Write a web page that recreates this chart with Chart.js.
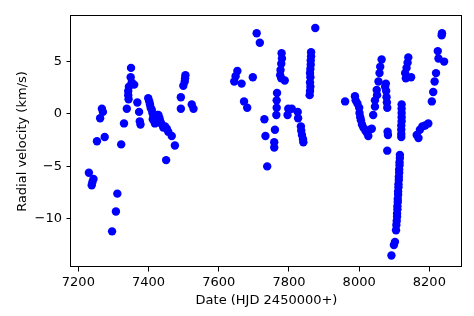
<!DOCTYPE html>
<html>
<head>
<meta charset="utf-8">
<script src="https://cdn.jsdelivr.net/npm/chart.js@4/dist/chart.umd.min.js"></script>
<style>
html, body { margin: 0; padding: 0; background: #fff; }
canvas { display: block; }
</style>
</head>
<body>
<canvas id="rvChart" width="474" height="316"></canvas>
<script>
// first season
let dates1 = [7230,7238,7240,7243,7253,7262,7267,7270,7275,7296,7307,7311,7322,7330,7338,7342,7343,7344,7342,7349,7350,7352,7359,7368,7373,7375,7377,
    7399,7402,7404,7406,7409,7411,7414,7416,7418,7412,7420,7425,7428,7431,7433,7436,7442,7447,7452,7456,7466,7475,7450,
    7492,7492,7499,7503,7504,7505,7523,7528];
let rv1 = [-5.6,-6.8,-6.5,-6.2,-2.6,-0.4,0.5,0.2,-2.2,-11.2,-9.3,-7.6,-2.9,-0.9,0.5,1.8,1.4,2.6,2.2,3.5,4.4,3.0,2.8,1.1,0.2,-0.7,-1.0,
    1.5,1.2,0.9,0.6,0.4,0.1,-0.3,-0.6,-0.9,-0.5,-0.2,-0.1,-0.1,-0.4,-0.7,-0.9,-1.3,-1.2,-1.4,-1.7,-2.1,-3.0,-4.4,
    0.5,1.6,2.7,3.1,3.4,3.7,0.9,0.5];

// second season
let dates2 = [7644,7648,7653,7665,7672,7681,7697,7708,7717,7730,7733,7738,7758,7758,7760,7764,7765,7765,7766,
    7775,7776,7778,7780,7779,7778,7788,7796,7798,7808,7825,7826,7834,7835,7837,7840,7841,
    7859,7860,7861,7860,7861,7860,7861,7862,7862,7863,7863,7875];
let rv2 = [3.1,3.6,4.1,2.9,1.2,0.6,3.5,7.7,6.8,-0.5,-2.1,-5.0,-3.2,-2.7,-1.5,-0.1,0.6,1.3,2.0,
    3.7,4.2,4.8,5.3,5.8,3.4,3.2,-0.1,0.5,0.5,0.2,-0.4,-1.2,-1.6,-2.0,-2.4,-2.7,
    1.8,2.2,2.6,3.0,3.5,3.9,4.3,4.7,5.1,5.5,5.9,8.2];

// third season
let dates3 = [7960,7988,7990,7995,8000,8001,8003,8005,8008,8012,8018,8022,8026,8030,8036,8040,8045,8045,8050,8051,8055,8058,8060,8064,
    8074,8076,8077,8078,8079,8080,8081,8082,8080,
    8116,8116,8115,8115,8114,8114,8113,8113,8112,8112,8111,8111,8110,8110,8109,8109,8108,8108,8107,8106,8105,
    8102,8099,8092,
    8121,8121,8121,8121,8121,8120,8120,8120,8120,
    8131,8133,8135,8138,8140,8148,
    8164,8169,8173,8180,8188,8197,8207,8211,8215,8219,8224,8226,8235,8236,8242];
let rv3 = [1.2,1.7,1.3,1.0,0.6,0.1,-0.3,-0.6,-1.0,-1.3,-1.6,-1.8,-2.1,-1.5,-1.4,-0.1,0.7,1.3,2.3,1.8,3.1,3.9,4.5,5.2,
    2.6,2.9,2.2,1.6,1.1,0.6,-1.7,-2.0,-3.5,
    -3.9,-4.2,-4.6,-4.9,-5.3,-5.6,-6.0,-6.3,-6.7,-7.0,-7.4,-7.7,-8.1,-8.4,-8.8,-9.1,-9.5,-9.8,-10.2,-10.6,-11.1,
    -12.2,-12.5,-13.5,
    0.9,0.5,0.1,-0.3,-0.7,-1.1,-1.5,-1.9,-2.2,
    3.9,3.4,4.4,4.9,5.4,3.5,
    -2.0,-2.3,-1.5,-1.2,-1.1,-0.9,1.2,2.1,3.1,3.9,6.0,5.3,7.5,7.7,5.0];

let xTicks = [7200, 7400, 7600, 7800, 8000, 8200];
let yTicks = [-10, -5, 0, 5];

function toPoints(xs, ys) {
    return xs.map((x, i) => ({x: x, y: ys[i]}));
}

function minusSign(v) {
    return v < 0 ? '\u2212' + Math.abs(v) : '' + v;
}

// box around the plot area, like the axes spines
const frame = {
    id: 'frame',
    afterDatasetsDraw(chart) {
        const a = chart.chartArea;
        const c = chart.ctx;
        c.save();
        c.strokeStyle = '#000';
        c.lineWidth = 1;
        c.strokeRect(a.left - 0.5, a.top - 0.5, a.right - a.left, a.bottom - a.top);
        c.restore();
    }
};

Chart.defaults.font.family = 'DejaVu Sans';
Chart.defaults.font.size = 13;
Chart.defaults.color = '#000';

let pointStyle = {
    pointRadius: 4.2,
    pointBackgroundColor: '#0000ff',
    pointBorderWidth: 0,
    showLine: false
};

new Chart(document.getElementById('rvChart').getContext('2d'), {
    type: 'scatter',
    data: {
        datasets: [
            Object.assign({data: toPoints(dates1, rv1)}, pointStyle),
            Object.assign({data: toPoints(dates2, rv2)}, pointStyle),
            Object.assign({data: toPoints(dates3, rv3)}, pointStyle)
        ]
    },
    options: {
        responsive: false,
        animation: false,
        devicePixelRatio: 1,
        layout: { padding: { top: 16, right: 12, left: 0, bottom: 0 } },
        plugins: { legend: { display: false }, tooltip: { enabled: false } },
        events: [],
        scales: {
            x: {
                type: 'linear',
                min: 7179,
                max: 8293,
                afterFit: s => { s.height = 49; },
                afterBuildTicks: s => { s.ticks = xTicks.map(v => ({value: v})); },
                border: { display: false },
                grid: { drawOnChartArea: false, drawTicks: true, tickLength: 4.5, color: '#000', tickWidth: 1 },
                ticks: { padding: 3, maxRotation: 0, callback: v => '' + v },
                title: { display: true, text: 'Date (HJD 2450000+)', padding: { top: 0, bottom: 8 } }
            },
            y: {
                type: 'linear',
                min: -14.6,
                max: 9.35,
                afterFit: s => { s.width = 71; },
                afterBuildTicks: s => { s.ticks = yTicks.map(v => ({value: v})); },
                border: { display: false },
                grid: { drawOnChartArea: false, drawTicks: true, tickLength: 4.5, color: '#000', tickWidth: 1 },
                ticks: { padding: 4.5, callback: minusSign },
                title: { display: true, text: 'Radial velocity (km/s)', padding: { top: 15, bottom: 0 } }
            }
        }
    },
    plugins: [frame]
});
</script>
</body>
</html>
